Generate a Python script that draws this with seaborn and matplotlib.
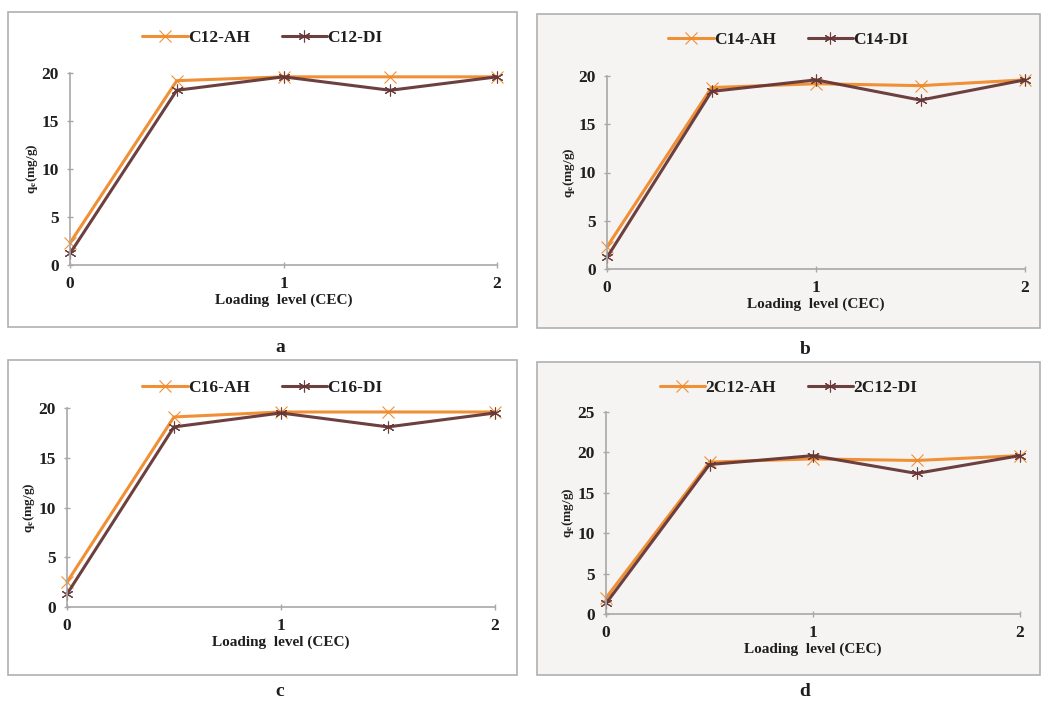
import matplotlib
matplotlib.use("Agg")
import matplotlib.pyplot as plt
import seaborn as sns
import pandas as pd
from matplotlib.patches import Rectangle

sns.set_theme(style="white")
plt.rcParams['font.family'] = ['Liberation Serif', 'DejaVu Serif']
plt.rcParams['mathtext.fontset'] = 'stix'

loading = [0, 0.5, 1, 1.5, 2]

a_ah = [2.3, 19.2, 19.6, 19.6, 19.6]
a_di = [1.2, 18.2, 19.6, 18.2, 19.6]
b_ah = [2.3, 18.8, 19.2, 19.0, 19.6]
b_di = [1.2, 18.4, 19.6, 17.5, 19.6]
c_ah = [2.5, 19.1, 19.6, 19.6, 19.6]
c_di = [1.3, 18.1, 19.5, 18.1, 19.5]
d_ah = [2.0, 18.8, 19.2, 19.0, 19.6]
d_di = [1.3, 18.5, 19.6, 17.4, 19.6]

names = ["C12", "C14", "C16", "2C12"]
panel_labels = ["a", "b", "c", "d"]
series = [(a_ah, a_di), (b_ah, b_di), (c_ah, c_di), (d_ah, d_di)]
ymax = [20, 20, 20, 25]

W, H = 1043, 704
fig = plt.figure(figsize=(W / 100, H / 100), dpi=100)
fig.patch.set_facecolor("white")

boxes = [(8, 12, 517, 327), (537, 14, 1040, 328), (8, 360, 517, 675), (537, 362, 1040, 675)]
axpos = [(70, 497, 265, 73), (607, 1025, 269, 76), (67, 495, 607, 408), (606, 1020, 614, 412)]
labpos = [(280, 347), (805, 350), (280, 692), (805, 692)]
legy = [38, 40, 388, 388]
faces = ["white", "#f6f4f2", "white", "#f6f4f2"]

orange = "#ef8a2c"
brown = "#653636"
gray = "#a8a8a8"
txt = "#1e1e1e"

for i in range(4):
    bx0, by0, bx1, by1 = boxes[i]
    fig.patches.append(Rectangle((bx0 / W, 1 - by1 / H), (bx1 - bx0) / W, (by1 - by0) / H,
                                 transform=fig.transFigure, facecolor=faces[i],
                                 edgecolor="#b0b0b0", linewidth=1.2, zorder=-5))
    l, r, b, t = axpos[i]
    ax = fig.add_axes([l / W, 1 - b / H, (r - l) / W, (b - t) / H])
    ax.set_zorder(3)
    ax.set_facecolor("none")
    ah, di = series[i]
    n = names[i]
    df = pd.DataFrame({
        "x": loading + loading,
        "y": ah + di,
        "s": [n + "-AH"] * 5 + [n + "-DI"] * 5,
    })
    sns.lineplot(data=df, x="x", y="y", hue="s", style="s", ax=ax,
                 palette={n + "-AH": orange, n + "-DI": brown},
                 markers={n + "-AH": "x", n + "-DI": (6, 2, 0)},
                 dashes=False, linewidth=2.2, markersize=8.5, markeredgewidth=0.8,
                 clip_on=False)
    for ln in ax.lines:
        ln.set_markeredgecolor(ln.get_color())
        ln.set_alpha(0.95)
    ax.set_xlim(0, 2)
    ax.set_ylim(0, ymax[i])
    ax.set_xticks([0, 1, 2])
    ax.set_yticks(list(range(0, ymax[i] + 1, 5)))
    for sp in ["top", "right"]:
        ax.spines[sp].set_visible(False)
    for sp in ["left", "bottom"]:
        ax.spines[sp].set_color(gray)
        ax.spines[sp].set_linewidth(1.2)
    ax.tick_params(axis="both", which="major", length=4, width=1, color=gray,
                   direction="inout", labelsize=12.5, pad=6, left=True, bottom=True)
    for lab in ax.get_xticklabels() + ax.get_yticklabels():
        lab.set_fontweight("bold")
        lab.set_color(txt)
    ax.set_xlabel("Loading  level (CEC)", fontsize=11, fontweight="bold", labelpad=1, color=txt)
    ax.set_ylabel(r"q$_{\mathbf{e}}$(mg/g)", fontsize=9.5, fontweight="bold", labelpad=1, color=txt)
    handles, labels = ax.get_legend_handles_labels()
    for h in handles:
        h.set_markeredgecolor(h.get_color())
    leg_y = 1 - legy[i] / H
    ax.legend(handles, labels, loc="center", bbox_to_anchor=(((bx0 + bx1) / 2) / W, leg_y),
              bbox_transform=fig.transFigure, ncol=2, frameon=False,
              prop={"family": "Liberation Serif", "weight": "bold", "size": 12.5},
              handlelength=2.6, columnspacing=1.8, handletextpad=0.05, labelcolor=txt)
    fig.text(labpos[i][0] / W, 1 - labpos[i][1] / H, panel_labels[i], ha="center", va="center",
             fontsize=14, fontweight="bold", color=txt)

fig.savefig("out.png", dpi=100)
